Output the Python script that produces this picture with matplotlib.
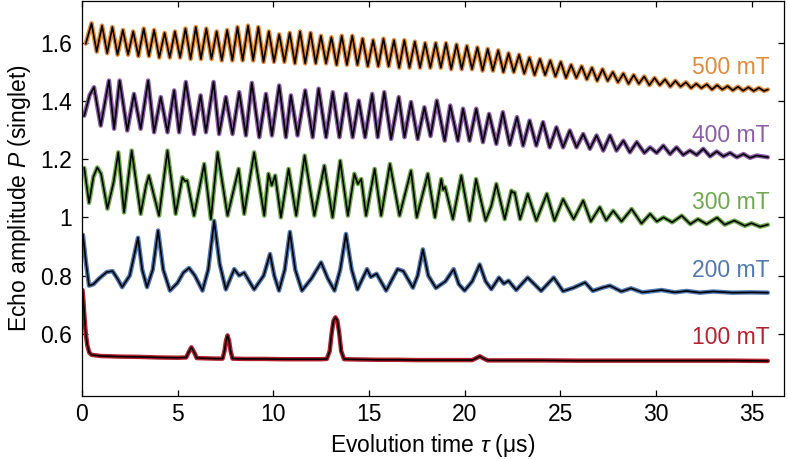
import matplotlib
matplotlib.use('Agg')
import matplotlib.pyplot as plt

plt.rcParams['font.family'] = ['Liberation Sans', 'DejaVu Sans']
plt.rcParams['mathtext.fontset'] = 'custom'
plt.rcParams['mathtext.it'] = 'Liberation Sans:italic'
plt.rcParams['mathtext.rm'] = 'Liberation Sans'

# ---------------- data ----------------
t100 = [0.03, 0.08, 0.14, 0.2, 0.28, 0.38, 0.5, 1.0, 2.0, 3.0, 4.0, 5.0, 5.45, 5.57, 5.72,
        5.87, 6.0, 6.5, 7.0, 7.35, 7.45, 7.53, 7.61, 7.69, 7.77, 7.87, 8.5, 9.5, 10.5, 11.5,
        12.5, 12.8, 12.95, 13.05, 13.15, 13.25, 13.35, 13.45, 13.55, 13.7, 14.5, 15.5, 16.5,
        17.5, 18.5, 19.5, 20.4, 20.65, 20.8, 20.95, 21.2, 22.5, 24, 26, 28, 30, 32, 34, 35.85]
p100 = [0.75, 0.71, 0.65, 0.6, 0.56, 0.535, 0.527, 0.523, 0.521, 0.52, 0.518, 0.517, 0.518, 0.535, 0.553,
        0.535, 0.516, 0.515, 0.514, 0.514, 0.54, 0.575, 0.594, 0.575, 0.54, 0.514, 0.513, 0.513, 0.512, 0.512,
        0.512, 0.513, 0.54, 0.6, 0.645, 0.656, 0.645, 0.6, 0.54, 0.512, 0.511, 0.51, 0.51,
        0.509, 0.509, 0.509, 0.509, 0.517, 0.522, 0.516, 0.508, 0.508, 0.508, 0.507, 0.507, 0.507, 0.507, 0.507, 0.506]

t200 = [0.05, 0.12, 0.2, 0.37, 0.6, 0.9, 1.3, 1.6, 1.85, 2.1, 2.5, 2.93, 3.15, 3.4, 3.7, 3.98, 4.25,
        4.6, 5.0, 5.3, 5.6, 5.9, 6.3, 6.6, 6.91, 7.2, 7.52, 7.96, 8.22, 8.48, 9.0, 9.5, 9.83, 10.05,
        10.3, 10.6, 10.87, 11.15, 11.5, 12.0, 12.5, 12.85, 13.2, 13.5, 13.8, 14.1, 14.4, 14.9, 15.1,
        15.4, 15.9, 16.5, 16.8, 17.3, 17.55, 17.82, 18.1, 18.5, 19.0, 19.43, 19.7, 20.0, 20.4, 20.79,
        21.1, 21.4, 21.8, 22.05, 22.3, 22.7, 23.3, 24.0, 24.66, 25.15, 25.7, 26.3, 26.7, 27.2, 27.6,
        28.2, 28.7, 29.3, 30.3, 31.0, 31.6, 32.3, 33.0, 34.0, 35.0, 35.85]
p200 = [0.94, 0.9, 0.85, 0.765, 0.77, 0.79, 0.812, 0.815, 0.79, 0.76, 0.8, 0.93, 0.82, 0.76, 0.82, 0.955, 0.82,
        0.748, 0.775, 0.81, 0.826, 0.8, 0.748, 0.82, 0.988, 0.84, 0.752, 0.822, 0.8, 0.81, 0.752, 0.8, 0.874, 0.8,
        0.748, 0.82, 0.95, 0.82, 0.748, 0.79, 0.845, 0.79, 0.748, 0.82, 0.943, 0.82, 0.752, 0.822, 0.795,
        0.806, 0.748, 0.822, 0.815, 0.758, 0.8, 0.89, 0.8, 0.757, 0.78, 0.822, 0.77, 0.748, 0.78, 0.838,
        0.78, 0.753, 0.793, 0.772, 0.782, 0.75, 0.793, 0.747, 0.793, 0.746, 0.758, 0.776, 0.747, 0.758, 0.765,
        0.745, 0.756, 0.742, 0.75, 0.742, 0.747, 0.741, 0.745, 0.741, 0.742, 0.741]

t300 = [0.12, 0.37, 0.6, 0.8, 1.0, 1.33, 1.65, 1.9, 2.2, 2.6, 3.07, 3.35, 3.5, 4.03, 4.47, 4.9, 5.25,
        5.38, 5.5, 5.86, 6.39, 6.74, 7.09, 7.61, 8.19, 8.48, 9.0, 9.53, 9.75, 9.92, 10.1, 10.4, 10.8,
        11.2, 11.64, 12.15, 12.67, 13.1, 13.5, 13.9, 14.24, 14.42, 14.6, 14.85, 15.3, 15.64, 16.1, 16.6,
        17.2, 17.5, 18.08, 18.45, 18.78, 18.88, 18.98, 19.39, 19.83, 20.26, 20.6, 21.1, 21.4, 21.66,
        22.1, 22.45, 22.55, 22.62, 22.9, 23.3, 23.75, 24.3, 24.7, 25.15, 25.7, 26.2, 26.6, 27.07, 27.4,
        27.77, 28.2, 28.73, 29.25, 29.7, 30.05, 30.4, 30.85, 31.35, 31.8, 32.2, 32.65, 33.2, 33.6,
        34.1, 34.65, 35.0, 35.45, 35.85]
p300 = [1.17, 1.05, 1.14, 1.172, 1.15, 1.03, 1.12, 1.224, 1.017, 1.23, 1.012, 1.11, 1.144, 1.006, 1.23, 1.012, 1.138,
        1.125, 1.127, 1.006, 1.184, 0.994, 1.224, 1.006, 1.167, 1.012, 1.224, 1.006, 1.15, 1.11, 1.144, 1.0, 1.167,
        1.006, 1.213, 1.006, 1.178, 1.0, 1.195, 1.006, 1.15, 1.115, 1.132, 1.006, 1.167, 1.006, 1.184, 1.006,
        1.161, 1.0, 1.15, 1.0, 1.132, 1.095, 1.105, 0.994, 1.144, 0.989, 1.132, 0.989, 1.04, 1.115,
        0.994, 1.092, 1.085, 1.086, 0.994, 1.081, 0.989, 1.081, 0.989, 1.063, 0.994, 1.058, 0.986, 1.035, 0.99,
        1.023, 0.986, 1.029, 0.979, 1.012, 0.986, 1.0, 0.983, 1.006, 0.977, 0.994, 0.977, 0.999, 0.975,
        0.989, 0.971, 0.98, 0.968, 0.975]

t400 = [0.12, 0.4, 0.63, 0.98, 1.41, 1.68, 1.97, 2.37, 2.72, 3.07, 3.46, 3.77, 4.12, 4.47, 4.82, 5.08,
        5.43, 5.86, 6.2, 6.48, 6.88, 7.17, 7.52, 7.87, 8.22, 8.57, 8.88, 9.27, 9.62, 9.93, 10.31, 10.66,
        10.92, 11.27, 11.67, 12.06, 12.37, 12.76, 13.11, 13.46, 13.8, 14.15, 14.47, 14.8, 15.17, 15.46,
        15.8, 16.16, 16.56, 16.86, 17.2, 17.55, 17.9, 18.22, 18.55, 18.96, 19.25, 19.65, 19.92, 20.26,
        20.61, 20.96, 21.28, 21.66, 22.0, 22.36, 22.74, 23.06, 23.4, 23.75, 24.1, 24.45, 24.8, 25.15,
        25.5, 25.85, 26.2, 26.55, 26.9, 27.25, 27.6, 27.94, 28.3, 28.64, 29.0, 29.4, 29.7, 30.04, 30.39,
        30.74, 31.08, 31.43, 31.78, 32.13, 32.48, 32.83, 33.18, 33.53, 33.88, 34.23, 34.58, 34.92, 35.27,
        35.85]
p400 = [1.35, 1.42, 1.448, 1.316, 1.471, 1.305, 1.471, 1.299, 1.425, 1.305, 1.471, 1.293, 1.414, 1.293, 1.437, 1.293,
        1.466, 1.287, 1.42, 1.293, 1.466, 1.287, 1.414, 1.287, 1.431, 1.282, 1.463, 1.276, 1.425, 1.282, 1.454, 1.276,
        1.42, 1.282, 1.437, 1.276, 1.443, 1.276, 1.431, 1.276, 1.425, 1.276, 1.402, 1.276, 1.425, 1.276,
        1.431, 1.27, 1.414, 1.276, 1.397, 1.27, 1.379, 1.28, 1.402, 1.264, 1.385, 1.264, 1.374, 1.264,
        1.374, 1.259, 1.356, 1.253, 1.362, 1.25, 1.345, 1.247, 1.333, 1.247, 1.328, 1.241, 1.31, 1.241,
        1.299, 1.241, 1.287, 1.236, 1.282, 1.23, 1.282, 1.23, 1.264, 1.224, 1.259, 1.222, 1.241, 1.222, 1.247,
        1.218, 1.241, 1.215, 1.23, 1.215, 1.236, 1.21, 1.227, 1.21, 1.222, 1.207, 1.218, 1.205, 1.213,
        1.207]

t500 = [0.20, 0.50, 0.77, 1.05, 1.32, 1.59, 1.86, 2.14, 2.41, 2.68, 2.95, 3.23, 3.50, 3.77, 4.04,
        4.32, 4.59, 4.86, 5.13, 5.41, 5.68, 5.95, 6.22, 6.50, 6.77, 7.04, 7.31, 7.59, 7.86, 8.13,
        8.40, 8.68, 8.95, 9.22, 9.49, 9.77, 10.04, 10.31, 10.58, 10.86, 11.13, 11.40, 11.67, 11.95,
        12.22, 12.49, 12.76, 13.04, 13.31, 13.58, 13.85, 14.13, 14.40, 14.67, 14.94, 15.22, 15.49,
        15.76, 16.03, 16.31, 16.58, 16.85, 17.12, 17.40, 17.67, 17.94, 18.21, 18.49, 18.76, 19.03,
        19.30, 19.58, 19.85, 20.12, 20.39, 20.67, 20.94, 21.21, 21.48, 21.76, 22.03, 22.30, 22.57,
        22.85, 23.12, 23.39, 23.66, 23.94, 24.21, 24.48, 24.75, 25.03, 25.30, 25.57, 25.84, 26.12,
        26.39, 26.66, 26.93, 27.21, 27.48, 27.75, 28.02, 28.30, 28.57, 28.84, 29.11, 29.39, 29.66,
        29.93, 30.20, 30.48, 30.75, 31.02, 31.29, 31.57, 31.84, 32.11, 32.38, 32.66, 32.93, 33.20,
        33.47, 33.75, 34.02, 34.29, 34.56, 34.84, 35.11, 35.38, 35.65, 35.85]
p500 = [1.598,
        1.668, 1.57, 1.66, 1.565, 1.655, 1.56, 1.645, 1.56, 1.64, 1.555,
        1.65, 1.555, 1.645, 1.55, 1.635, 1.55, 1.64, 1.55, 1.65, 1.545,
        1.655, 1.545, 1.65, 1.545, 1.64, 1.54, 1.645, 1.54, 1.655, 1.54,
        1.66, 1.54, 1.655, 1.535, 1.64, 1.535, 1.63, 1.535, 1.635, 1.53,
        1.64, 1.53, 1.635, 1.53, 1.625, 1.53, 1.62, 1.525, 1.625, 1.525,
        1.625, 1.525, 1.615, 1.52, 1.61, 1.52, 1.615, 1.52, 1.61, 1.515,
        1.61, 1.515, 1.605, 1.515, 1.60, 1.515, 1.60, 1.515, 1.60, 1.51,
        1.595, 1.51, 1.59, 1.51, 1.585, 1.505, 1.58, 1.505, 1.575, 1.50,
        1.565, 1.50, 1.56, 1.495, 1.55, 1.49, 1.545, 1.49, 1.54, 1.485,
        1.535, 1.48, 1.525, 1.48, 1.52, 1.475, 1.515, 1.47, 1.51, 1.47,
        1.50, 1.465, 1.495, 1.46, 1.49, 1.46, 1.485, 1.455, 1.48, 1.455,
        1.475, 1.45, 1.47, 1.45, 1.465, 1.445, 1.46, 1.445, 1.458, 1.44,
        1.455, 1.44, 1.452, 1.437, 1.45, 1.436, 1.448, 1.435, 1.446, 1.435,
        1.44]

labels = ['100 mT', '200 mT', '300 mT', '400 mT', '500 mT']
label_y = [0.586, 0.816, 1.052, 1.282, 1.517]
colors = ['#B3202E', '#4F78B0', '#6EA84E', '#8B5CA8', '#E08A3C']
xticks = [0, 5, 10, 15, 20, 25, 30, 35]
yticks = [0.6, 0.8, 1.0, 1.2, 1.4, 1.6]
yticklabels = ['0.6', '0.8', '1', '1.2', '1.4', '1.6']

# ---------------- figure ----------------
fig = plt.figure(figsize=(7.88, 4.59), dpi=100)
ax = fig.add_axes([0.104, 0.137, 0.891, 0.861])

series = [(t100, p100), (t200, p200), (t300, p300), (t400, p400), (t500, p500)]
for (t, p), c, lab, ly in zip(series, colors, labels, label_y):
    ax.plot(t, p, color=c, lw=3.2, solid_joinstyle='round', solid_capstyle='round', zorder=2)
    ax.plot(t, p, color='black', lw=1.2, solid_joinstyle='round', zorder=3)
    ax.text(35.95, ly, lab, color=c, ha='right', va='center', fontsize=16.5)

ax.set_xlim(0, 36.7)
ax.set_ylim(0.385, 1.745)
ax.set_xticks(xticks)
ax.set_yticks(yticks)
ax.set_yticklabels(yticklabels)
ax.tick_params(direction='in', length=4, width=0.9, labelsize=16.5, right=True, top=True)
ax.tick_params(axis='y', pad=7)
ax.tick_params(axis='x', pad=5)
for s in ax.spines.values():
    s.set_linewidth(0.9)

ax.set_xlabel(r'Evolution time $\tau$ (μs)', fontsize=16.5, labelpad=4)
ax.set_ylabel(r'Echo amplitude $P$ (singlet)', fontsize=16.5, labelpad=5)

fig.savefig('out.png', dpi=100)
